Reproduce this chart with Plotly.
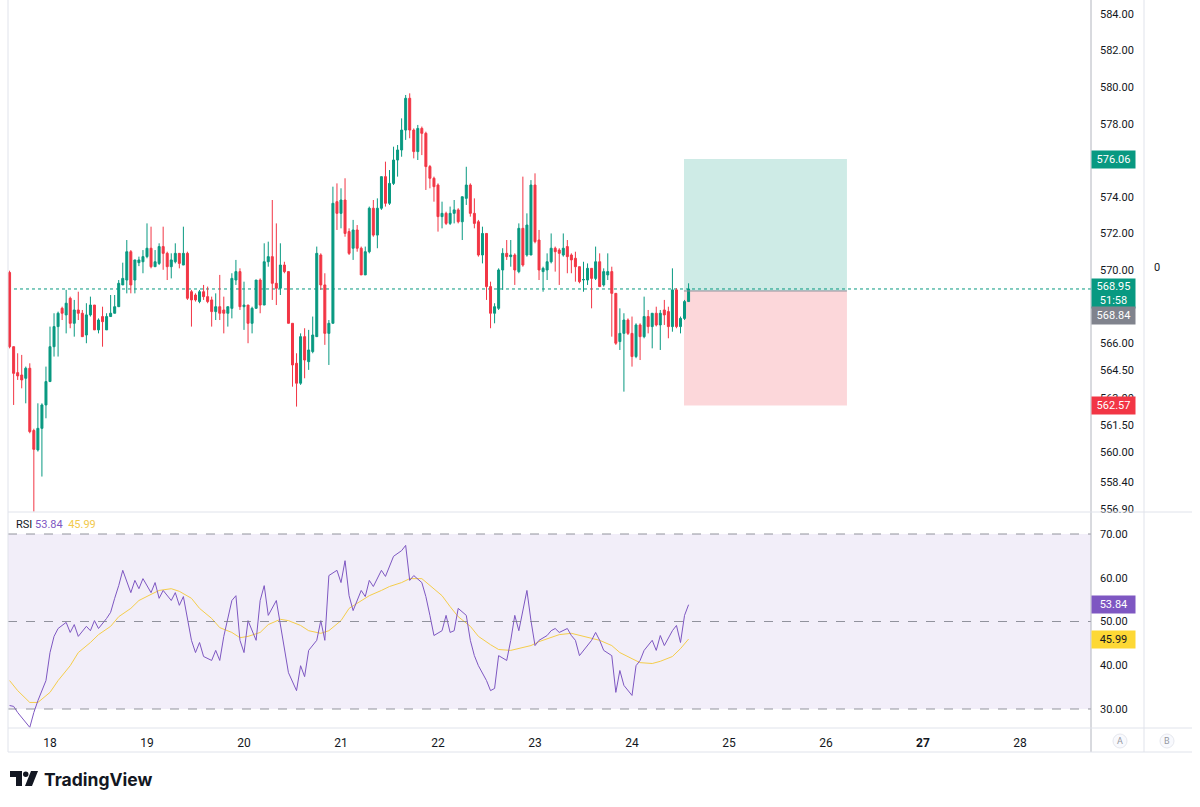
import plotly.graph_objects as go

# ---------------- data (hourly candles, 17 Oct 14:00 -> 24 Oct 14:00) ----------------
opens = [569.85,565.79,564.37,564.24,564.06,564.61,561.20,560.14,561.32,562.60,
         563.88,565.79,566.89,567.89,567.53,568.44,567.07,567.80,567.62,566.43,
         567.53,568.07,566.71,567.44,566.71,567.44,567.62,567.98,569.17,569.44,
         570.99,569.44,570.39,570.44,570.72,571.18,570.17,570.35,571.27,570.90,
         570.17,570.44,570.90,570.26,570.90,568.80,568.62,568.26,568.80,568.53,
         568.35,567.71,567.98,567.80,567.62,567.89,569.44,569.90,567.98,568.07,
         567.07,567.89,569.44,568.07,570.44,570.72,569.26,568.99,570.26,569.90,
         567.07,564.88,563.79,566.34,564.97,565.52,566.34,570.81,569.17,566.52,
         567.07,573.73,573.09,573.82,572.09,571.18,572.18,571.18,569.72,570.99,
         573.37,571.90,573.37,575.10,573.64,574.73,576.01,576.56,577.65,579.39,
         577.65,576.47,577.74,577.47,575.65,575.01,574.64,572.91,573.09,572.54,
         573.09,573.28,572.63,573.91,574.64,573.09,572.63,570.81,571.99,569.08,
         567.62,567.89,569.99,570.90,570.72,570.81,569.90,572.27,570.81,570.81,
         574.64,571.63,569.90,569.99,570.44,571.18,571.08,570.81,571.27,570.81,
         570.63,570.17,569.44,569.44,570.08,569.53,570.44,569.17,569.72,569.90,
         568.71,566.07,566.52,567.25,566.52,565.25,566.98,566.34,567.44,566.89,
         567.62,566.98,567.80,567.71,566.89,568.90,566.89,567.34,568.26]
highs = [569.95,565.80,565.43,565.34,564.70,564.88,561.30,562.69,562.69,564.70,
         566.89,567.62,567.71,567.98,568.90,568.53,568.35,568.80,567.80,568.17,
         568.53,568.07,567.34,567.98,567.62,568.62,568.62,569.44,570.39,571.63,
         571.08,570.54,570.72,571.08,572.54,572.36,571.08,571.45,572.36,570.99,
         570.90,571.45,570.90,572.36,570.99,568.90,568.71,568.90,569.17,569.08,
         568.53,568.71,569.72,568.53,567.98,569.81,570.54,570.08,569.35,568.07,
         567.98,569.44,569.53,571.45,571.54,573.82,572.54,571.45,570.44,569.90,
         567.07,565.43,566.52,566.80,566.71,567.44,571.27,570.90,569.81,567.25,
         574.55,574.73,574.46,575.01,572.27,572.73,572.45,571.27,571.27,573.46,
         573.82,573.91,575.10,575.92,575.46,576.74,576.83,578.29,579.57,579.66,
         577.74,577.93,577.84,577.56,575.74,575.10,574.73,573.73,573.18,573.46,
         573.82,573.37,574.00,575.64,574.73,573.91,572.73,572.36,571.99,569.35,
         568.17,570.08,571.18,571.63,571.63,570.90,572.54,575.10,573.09,574.91,
         575.28,572.18,570.17,570.90,571.99,571.27,571.18,571.99,571.63,570.90,
         570.99,570.17,570.44,570.35,570.08,571.27,570.90,570.08,570.90,570.17,
         568.71,567.89,567.62,567.34,567.44,567.07,567.07,568.53,567.80,567.62,
         567.98,567.80,568.35,567.98,570.08,568.99,567.44,568.35,569.26]
lows = [565.70,562.60,563.97,563.51,562.69,561.05,556.76,560.05,558.68,561.87,
        563.88,565.25,565.25,567.25,566.52,566.80,566.34,567.25,566.34,565.98,
        567.44,566.71,566.52,565.79,566.71,567.44,567.62,567.98,569.17,568.71,
        568.71,568.71,570.20,569.81,570.63,570.08,570.17,570.26,570.00,569.44,
        569.53,570.35,570.08,570.26,568.35,566.89,568.26,568.17,568.35,568.17,
        566.89,567.25,567.25,566.52,566.89,567.34,569.17,567.80,566.71,565.98,
        566.52,567.89,567.62,568.07,570.17,568.35,568.07,568.62,569.81,567.07,
        563.60,562.51,563.70,564.06,564.52,565.43,566.34,568.90,565.89,564.79,
        567.07,572.18,572.27,571.81,570.81,570.54,570.99,569.72,569.72,570.90,
        571.81,571.18,573.28,573.46,573.55,574.64,575.10,576.19,577.11,577.20,
        576.10,576.01,576.28,574.37,574.46,573.73,572.09,572.27,572.45,572.45,
        572.54,572.54,571.63,573.55,572.91,572.27,570.72,570.35,568.35,566.80,
        567.07,567.80,568.90,570.54,570.17,569.17,569.81,570.17,570.72,570.81,
        571.45,569.44,568.80,569.44,570.35,569.90,569.17,570.72,569.81,569.81,
        569.35,569.26,568.80,569.17,567.89,569.44,569.08,569.08,569.44,566.34,
        565.89,565.61,563.33,566.43,564.70,565.16,565.06,566.25,566.52,565.70,
        566.90,565.61,566.98,566.25,566.61,566.80,566.52,567.25,568.26]
closes = [565.79,564.33,564.19,563.97,564.61,561.14,560.17,561.32,562.60,563.88,
          565.79,566.89,567.62,567.62,568.17,567.07,567.80,567.62,566.34,567.53,
          568.07,566.71,567.25,567.16,567.44,567.62,567.98,569.26,569.53,570.99,
          569.17,570.54,570.54,570.72,571.18,570.17,570.44,571.27,570.90,570.17,
          570.54,570.90,570.35,570.90,568.44,568.35,568.35,568.80,568.53,568.26,
          567.71,567.98,567.62,567.62,567.98,569.53,569.90,567.98,568.07,567.07,
          567.89,569.44,568.07,570.44,570.72,569.26,568.99,570.26,569.90,567.07,
          564.79,563.79,566.34,565.06,565.61,566.43,570.90,569.17,566.52,567.07,
          573.64,573.09,573.82,571.99,570.90,572.18,571.18,569.72,570.99,573.37,
          571.90,573.37,575.10,573.64,574.73,576.01,576.56,577.65,579.39,577.65,
          576.47,577.74,577.47,575.65,575.01,574.55,572.91,573.09,572.54,573.09,
          573.28,572.63,574.00,574.64,573.09,572.54,570.81,571.99,569.08,567.62,
          567.98,569.99,570.90,570.72,570.81,569.99,572.27,570.26,572.45,574.64,
          571.54,569.99,570.08,570.44,571.18,570.99,570.90,571.18,570.72,570.54,
          570.17,569.35,569.47,570.08,569.53,570.44,569.08,569.90,569.90,568.71,
          565.98,566.52,567.25,566.52,565.25,566.98,566.34,567.44,566.89,567.62,
          566.98,567.62,567.53,566.89,568.90,566.89,567.34,568.26,568.95]

first_bar_day = 17 + 14 / 24   # 17th, 14:00
bar_step = 1 / 24              # one hour
bar_x = [first_bar_day + k * bar_step for k in range(len(closes))]

# RSI (14): bar index -> value
rsi_bar = [0,1,2,4,5,6,7,9,10,11,12,14,15,16,17,19,20,21,22,24,25,26,27,28,30,31,32,33,35,36,
           37,38,40,41,42,43,45,46,47,48,50,51,52,53,55,56,57,58,59,61,62,63,64,66,67,68,69,71,72,73,
           74,76,77,78,79,81,82,83,84,85,87,88,89,90,92,93,94,95,97,98,99,100,102,103,104,105,107,108,109,110,
           111,113,114,115,116,118,119,120,121,123,124,125,126,128,129,130,131,133,134,135,136,138,139,140,141,142,
           144,145,146,147,149,150,151,152,154,155,156,157,159,160,161,162,164,165,166,167,168]
rsi_val = [30.8,30.6,29.2,26.9,25.8,29.2,31.9,36.5,42.9,46.6,48.4,49.8,47.5,49.3,46.6,48.9,47.9,50.2,48.4,50.7,
           52.1,55.3,58.2,61.7,56.6,59.4,57.5,59.8,56.6,58.9,55.3,57.1,54.8,56.6,53.7,55.7,45.7,42.9,45.2,42.0,
           41.1,43.4,41.1,46.6,54.8,55.9,45.7,42.9,50.2,45.7,54.8,58.2,51.4,54.8,49.1,43.4,38.3,34.2,39.9,37.4,
           43.4,45.7,50.2,45.7,60.5,61.7,58.9,63.9,55.9,52.5,57.1,55.7,59.4,58.0,61.7,60.3,62.8,64.9,66.2,67.4,
           59.4,60.5,58.9,55.7,51.4,46.8,47.9,51.4,47.5,47.9,53.0,51.4,45.7,42.2,39.9,36.5,34.2,34.7,42.2,41.1,
           45.7,51.4,47.9,57.1,50.2,44.5,45.7,46.8,47.9,48.4,47.5,48.4,46.8,45.7,42.2,43.4,45.7,47.5,45.7,43.4,
           42.2,33.8,38.8,35.4,33.1,39.9,41.1,43.4,45.7,43.4,46.8,44.5,47.9,49.1,45.2,51.4,53.84]
# RSI-based moving average
ma_bar = [0,2,5,7,10,12,15,17,20,22,25,27,30,32,35,37,40,42,45,47,50,52,55,57,59,62,64,67,69,72,
          74,77,79,82,84,87,89,92,94,97,99,102,104,107,109,111,114,116,119,121,124,126,129,131,134,136,139,141,
          144,146,149,151,154,156,159,161,164,166,168]
ma_val = [36.5,34.2,31.5,31.5,33.8,36.5,39.9,42.9,45.2,47.0,48.9,51.1,53.0,54.8,56.2,57.1,57.5,56.9,55.3,53.0,
          50.7,48.6,47.5,46.3,46.6,47.5,49.3,50.5,50.2,49.1,47.9,47.3,47.9,50.2,53.0,54.8,55.9,57.1,58.0,58.9,
          59.8,59.8,58.2,55.9,53.4,51.1,48.9,46.6,44.7,43.6,43.4,43.8,44.5,45.4,46.3,47.0,47.3,46.8,
          46.1,45.7,44.5,42.9,41.5,40.6,40.4,40.9,42.0,43.8,45.99]

day_ticks = [18, 19, 20, 21, 22, 23, 24, 25, 26, 27, 28]
price_ticks = [584, 582, 580, 578, 574, 572, 570, 566, 564.5, 563, 561.5, 560, 558.4, 556.9]
rsi_ticks = [70, 60, 50, 40, 30]

last_price = 568.95
countdown = "51:58"
entry_price = 568.84
take_profit = 576.06
stop_loss = 562.57
position_start = 24.536
position_end = 26.216
rsi_last = 53.84
ma_last = 45.99

# ---------------- styling ----------------
GREEN = "#089981"
RED = "#F23645"
PURPLE = "#7E57C2"
YELLOW = "#FDD835"
TEXT = "#131722"
BORDER = "#E0E3EB"
FONT = "Roboto"

W, H = 1200, 807
ML, MR, MT, MB = 8, 109, 0, 79
PW, PH = W - ML - MR, H - MT - MB


def px(x):
    return (x - ML) / PW


def py(y):
    return (MT + PH - y) / PH


split = py(512)

fig = go.Figure()
fig.add_trace(go.Candlestick(
    x=bar_x, open=opens, high=highs, low=lows, close=closes,
    increasing=dict(line=dict(color=GREEN, width=1), fillcolor=GREEN),
    decreasing=dict(line=dict(color=RED, width=1), fillcolor=RED),
    whiskerwidth=0, showlegend=False, xaxis="x", yaxis="y"))

fig.add_trace(go.Scatter(
    x=[bar_x[k] for k in ma_bar], y=ma_val, mode="lines",
    line=dict(color="#F5CD4B", width=1), showlegend=False, xaxis="x", yaxis="y2"))
fig.add_trace(go.Scatter(
    x=[bar_x[k] for k in rsi_bar], y=rsi_val, mode="lines",
    line=dict(color=PURPLE, width=1), showlegend=False, xaxis="x", yaxis="y2"))

shapes = []
# position tool
shapes.append(dict(type="rect", xref="x", yref="y", x0=position_start, x1=position_end,
                   y0=entry_price, y1=take_profit, fillcolor="rgba(8,153,129,0.2)",
                   line=dict(width=0), layer="below"))
shapes.append(dict(type="rect", xref="x", yref="y", x0=position_start, x1=position_end,
                   y0=stop_loss, y1=entry_price, fillcolor="rgba(242,54,69,0.2)",
                   line=dict(width=0), layer="below"))
shapes.append(dict(type="line", xref="x", yref="y", x0=position_start, x1=position_end,
                   y0=entry_price, y1=entry_price, line=dict(color="#8C8F99", width=1)))
# last price dotted line
shapes.append(dict(type="line", xref="paper", yref="y", x0=0, x1=1, y0=last_price, y1=last_price,
                   line=dict(color=GREEN, width=1, dash="dot"), layer="below"))
# RSI band
shapes.append(dict(type="rect", xref="paper", yref="y2", x0=0, x1=1, y0=30, y1=70,
                   fillcolor="rgba(126,87,194,0.1)", line=dict(width=0), layer="below"))
for lvl in (70, 50, 30):
    shapes.append(dict(type="line", xref="paper", yref="y2", x0=0, x1=1, y0=lvl, y1=lvl,
                       line=dict(color="rgba(120,123,134,0.8)", width=1, dash="dash")))
# pane borders
bot = py(752)
for (x0, y0, x1, y1) in [
    (px(8), bot, px(8), 1), (px(1091), bot, px(1091), 1), (px(1144), bot, px(1144), 1),
    (px(8), split, px(1192), split), (px(8), 0, px(1192), 0), (px(8), bot, px(1192), bot)]:
    shapes.append(dict(type="line", xref="paper", yref="paper", x0=x0, y0=y0, x1=x1, y1=y1,
                       line=dict(color=BORDER if x0 != px(1091) else "#B2B5BE", width=1)))
# A / B buttons
for cx in (1120, 1167):
    shapes.append(dict(type="circle", xref="paper", yref="paper",
                       x0=px(cx - 7), x1=px(cx + 7), y0=py(748), y1=py(734),
                       line=dict(color="#E6E8EE", width=1), fillcolor="#F8F9FD"))
# TradingView logo mark
shapes.append(dict(type="path", xref="paper", yref="paper",
                   path=f"M {px(10)} {py(771)} L {px(22)} {py(771)} L {px(22)} {py(786)} L {px(16)} {py(786)} "
                        f"L {px(16)} {py(777)} L {px(10)} {py(777)} Z",
                   fillcolor=TEXT, line=dict(width=0)))
shapes.append(dict(type="circle", xref="paper", yref="paper", x0=px(23), x1=px(28.5), y0=py(777), y1=py(771.5),
                   fillcolor=TEXT, line=dict(width=0)))
shapes.append(dict(type="path", xref="paper", yref="paper",
                   path=f"M {px(31)} {py(771)} L {px(38)} {py(771)} L {px(32)} {py(786)} L {px(25)} {py(786)} Z",
                   fillcolor=TEXT, line=dict(width=0)))

annotations = []


def price_label(y, text, bg, fg="white", yref="y", height=15):
    annotations.append(dict(xref="paper", yref=yref, x=1.0, y=y, xanchor="left", yanchor="middle",
                            text=text, showarrow=False, bgcolor=bg, width=41, height=height,
                            borderpad=1, align="center", font=dict(color=fg, size=11, family=FONT)))


price_label(take_profit, f"{take_profit:.2f}", GREEN)
price_label(last_price - 0.25, f"{last_price:.2f}<br>{countdown}", GREEN, height=27)
price_label(567.52, f"{entry_price:.2f}", "#80838D")
price_label(stop_loss, f"{stop_loss:.2f}", RED)
price_label(rsi_last, f"{rsi_last:.2f}", PURPLE, yref="y2")
price_label(ma_last, f"{ma_last:.2f}", YELLOW, fg=TEXT, yref="y2")

annotations.append(dict(xref="paper", yref="y", x=px(1152), y=570.1, xanchor="left", yanchor="middle",
                        text="0", showarrow=False, font=dict(size=11, color=TEXT, family=FONT)))
annotations.append(dict(xref="paper", yref="paper", x=px(14), y=py(524), xanchor="left", yanchor="middle",
                        text=f"RSI <span style='color:{PURPLE}'>{rsi_last:.2f}</span>  "
                             f"<span style='color:#F2C94C'>{ma_last:.2f}</span>",
                        showarrow=False, font=dict(size=11, color=TEXT, family=FONT)))
for cx, letter in ((1120, "A"), (1167, "B")):
    annotations.append(dict(xref="paper", yref="paper", x=px(cx), y=py(741), xanchor="center",
                            yanchor="middle", text=letter, showarrow=False,
                            font=dict(size=9, color="#9598A1", family=FONT)))
annotations.append(dict(xref="paper", yref="paper", x=px(42), y=py(779), xanchor="left", yanchor="middle",
                        text="<b>TradingView</b>", showarrow=False,
                        font=dict(size=17.5, color=TEXT, family="Inter")))

fig.update_layout(
    width=W, height=H, margin=dict(l=ML, r=MR, t=MT, b=MB),
    paper_bgcolor="white", plot_bgcolor="white",
    font=dict(family=FONT, color=TEXT, size=11),
    showlegend=False, shapes=shapes, annotations=annotations,
    xaxis=dict(range=[17.567, 28.732], anchor="y2", showgrid=False, zeroline=False,
               tickvals=day_ticks, ticktext=[("<b>%d</b>" % d) if d == 27 else str(d) for d in day_ticks],
               ticks="", ticklabelstandoff=6, tickfont=dict(size=12, color=TEXT, family=FONT),
               rangeslider=dict(visible=False), showline=False, fixedrange=True),
    yaxis=dict(domain=[split, 1], range=[556.74, 584.77], side="right", showgrid=False, zeroline=False,
               tickvals=price_ticks, ticktext=[f"{v:.2f}" for v in price_ticks], ticks="",
               ticklabelstandoff=8, tickfont=dict(size=11, color=TEXT, family=FONT), anchor="x"),
    yaxis2=dict(domain=[0, split], range=[25.66, 75.03], side="right", showgrid=False, zeroline=False,
                tickvals=rsi_ticks, ticktext=[f"{v:.2f}" for v in rsi_ticks], ticks="",
                ticklabelstandoff=8, tickfont=dict(size=11, color=TEXT, family=FONT), anchor="x"),
)

fig.write_html("out.html")
